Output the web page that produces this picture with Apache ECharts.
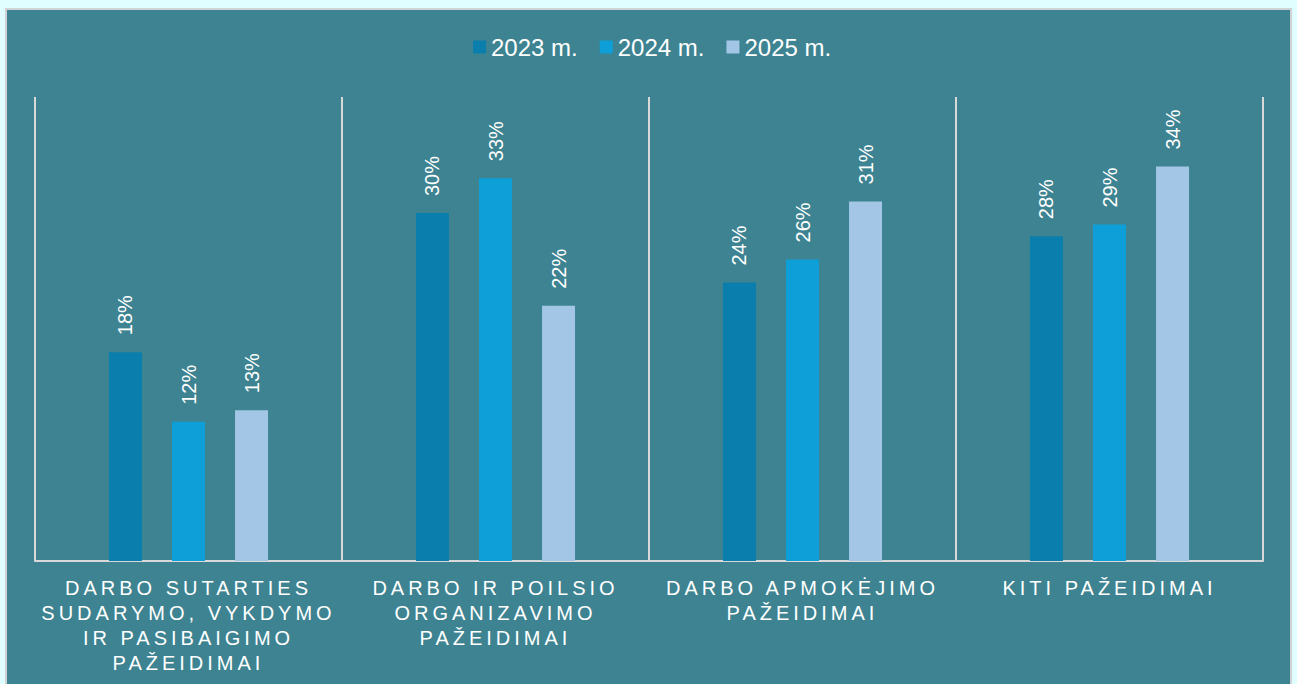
<!DOCTYPE html>
<html>
<head>
<meta charset="utf-8">
<script src="https://cdn.jsdelivr.net/npm/echarts@6/dist/echarts.min.js"></script>
<style>
  html, body { margin: 0; padding: 0; width: 1297px; height: 684px; overflow: hidden; background: #e0fdff; }
  #panel { position: absolute; left: 5px; top: 8px; width: 1283px; height: 700px; background: #3d8391; border: 2px solid #cfd3d4; }
  #chart { position: absolute; left: 0; top: 0; width: 1297px; height: 684px; }
  #chart text[style*="Helvetica"] { letter-spacing: 4px; }
</style>
</head>
<body>
<div id="panel"></div>
<div id="chart"></div>
<script>
const categories = [
  "DARBO SUTARTIES\nSUDARYMO, VYKDYMO\nIR PASIBAIGIMO\nPAŽEIDIMAI",
  "DARBO IR POILSIO\nORGANIZAVIMO\nPAŽEIDIMAI",
  "DARBO APMOKĖJIMO\nPAŽEIDIMAI",
  "KITI PAŽEIDIMAI"
];
const seriesNames = ["2023 m.", "2024 m.", "2025 m."];
const values2023 = [18, 30, 24, 28];
const values2024 = [12, 33, 26, 29];
const values2025 = [13, 22, 31, 34];
const colors = ["#0a7fad", "#0f9fd8", "#a3c6e6"];

const chart = echarts.init(document.getElementById('chart'), null, { renderer: 'svg' });
const baseFont = "'Liberation Sans', Arial";
const dataSets = [values2023, values2024, values2025];
const option = {
  animation: false,
  backgroundColor: 'transparent',
  legend: {
    data: seriesNames,
    left: 468,
    top: 30,
    itemWidth: 13,
    itemHeight: 13,
    itemGap: 22,
    icon: 'rect',
    textStyle: { color: '#ffffff', fontSize: 24, fontFamily: baseFont }
  },
  grid: { left: 35, right: 34, top: 97, bottom: 123, containLabel: false },
  xAxis: {
    type: 'category',
    data: categories,
    axisLine: { show: true, lineStyle: { color: '#d9d9d9', width: 2 } },
    axisTick: { show: false },
    splitLine: { show: true, lineStyle: { color: '#d9d9d9', width: 2 } },
    axisLabel: {
      color: '#ffffff', fontSize: 20, lineHeight: 25, margin: 14,
      fontFamily: "'Liberation Sans', Helvetica", interval: 0
    }
  },
  yAxis: { type: 'value', min: 0, max: 40, show: false, splitLine: { show: false } },
  series: seriesNames.map((name, i) => ({
    name: name,
    type: 'bar',
    data: dataSets[i],
    barWidth: 33,
    barGap: '91%',
    itemStyle: { color: colors[i] },
    label: {
      show: true, position: 'top', distance: 17, rotate: 90,
      align: 'left', verticalAlign: 'middle',
      formatter: '{c}%', color: '#ffffff', fontSize: 20, fontFamily: baseFont
    }
  }))
};
chart.setOption(option);
</script>
</body>
</html>
